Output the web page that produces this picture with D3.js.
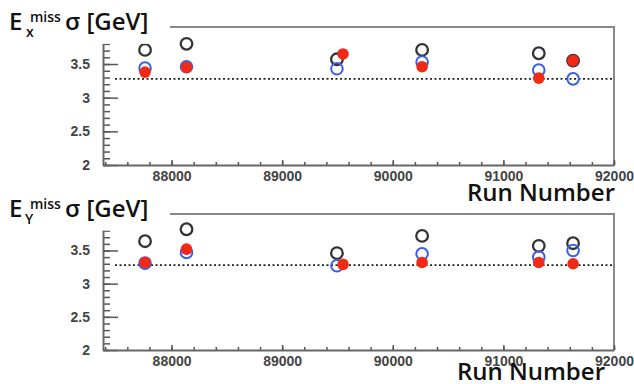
<!doctype html>
<html lang="en">
<head>
  <meta charset="utf-8">
  <title>MET sigma vs run number</title>
  <style>
  body { margin: 0; background: #fff; }
  svg { display: block; }
  .axis text { font-family: "Liberation Sans", Arial, sans-serif; font-weight: bold; font-size: 14px; fill: #444; }
  .axis line { stroke: #555; stroke-width: 1.5; }
  .axis path { stroke: #666; stroke-width: 2; }
  .frame { fill: none; stroke: #888; stroke-width: 2; }
  .title { font-family: "Open Sans", sans-serif; font-weight: 600; fill: #111; }
  </style>
</head>
<body>
<div id="chart"></div>
<script src="https://cdn.jsdelivr.net/npm/d3@7"></script>
<script>

//------------------data
var runs    = [87760, 88135, 89495, 90265, 91320, 91630];
var redRuns = [87760, 88135, 89550, 90265, 91320, 91630];

var exBlack = [3.71, 3.80, 3.57, 3.71, 3.66, 3.55];
var exBlue  = [3.44, 3.46, 3.43, 3.53, 3.41, 3.28];
var exRed   = [3.38, 3.45, 3.65, 3.46, 3.29, 3.55];

var eyBlack = [3.64, 3.82, 3.46, 3.72, 3.57, 3.61];
var eyBlue  = [3.31, 3.47, 3.27, 3.45, 3.40, 3.50];
var eyRed   = [3.32, 3.52, 3.29, 3.32, 3.32, 3.30];

var refLevel = 3.28;
var xTicks = [88000, 89000, 90000, 91000, 92000];
var yTicks = [2, 2.5, 3, 3.5];

//------------------svg
var width = 634, height = 384;
var svg = d3.select("#chart").append("svg")
    .attr("width", width)
    .attr("height", height);

var x = d3.scaleLinear().domain([87380, 92000]).range([103, 614]);

function drawPanel(top, bottom, sub, black, blue, red) {
  var y = d3.scaleLinear().domain([2, 4.05]).range([bottom, top]);
  var g = svg.append("g");

  // frame (top + right)
  g.append("path").attr("class", "frame")
    .attr("d", "M" + x.range()[0] + "," + top + "H" + x.range()[1] + "V" + bottom);

  // minor ticks
  g.append("g").attr("class", "axis")
    .attr("transform", "translate(" + x.range()[0] + ",0)")
    .call(d3.axisLeft(y).tickValues(d3.range(2, 4.05, 0.1)).tickSize(-7).tickSizeOuter(0).tickFormat(""))
    .select(".domain").remove();
  g.append("g").attr("class", "axis")
    .attr("transform", "translate(0," + bottom + ")")
    .call(d3.axisBottom(x).tickValues(d3.range(87400, 92001, 200)).tickSize(-3).tickSizeOuter(0).tickFormat(""))
    .select(".domain").remove();

  // major ticks + labels
  g.append("g").attr("class", "axis")
    .attr("transform", "translate(" + x.range()[0] + ",0)")
    .call(d3.axisLeft(y).tickValues(yTicks).tickSize(-15).tickSizeOuter(0).tickPadding(13).tickFormat(d3.format("")));
  g.append("g").attr("class", "axis")
    .attr("transform", "translate(0," + bottom + ")")
    .call(d3.axisBottom(x).tickValues(xTicks).tickSize(-5).tickSizeOuter(0).tickPadding(6).tickFormat(d3.format("d")));

  // dotted reference line
  g.append("line")
    .attr("x1", 115).attr("x2", x.range()[1])
    .attr("y1", y(refLevel)).attr("y2", y(refLevel))
    .attr("stroke", "#222").attr("stroke-width", 1.6)
    .attr("stroke-dasharray", "2,2.5");

  // markers
  g.selectAll(".blk").data(black).enter().append("circle")
    .attr("cx", function(d, i) { return x(runs[i]); })
    .attr("cy", function(d) { return y(d); })
    .attr("r", 5.8).attr("fill", "none")
    .attr("stroke", "#333").attr("stroke-width", 2.3);
  g.selectAll(".blu").data(blue).enter().append("circle")
    .attr("cx", function(d, i) { return x(runs[i]); })
    .attr("cy", function(d) { return y(d); })
    .attr("r", 5.8).attr("fill", "none")
    .attr("stroke", "#3b5de8").attr("stroke-width", 2);
  g.selectAll(".red").data(red).enter().append("circle")
    .attr("cx", function(d, i) { return x(redRuns[i]); })
    .attr("cy", function(d) { return y(d); })
    .attr("r", 5.8).attr("fill", "#f02a14");

  // title box covering the top-left corner
  g.append("rect").attr("x", 0).attr("y", top - 12)
    .attr("width", 170).attr("height", y(3.8) - top + 12)
    .attr("fill", "#fff");

  var base = top + 3;
  var t = g.append("text").attr("class", "title");
  t.append("tspan").attr("x", 9).attr("y", base).attr("font-size", 24).text("E");
  t.append("tspan").attr("x", sub == "x" ? 26 : 25).attr("y", base + 7).attr("font-size", 14).text(sub);
  t.append("tspan").attr("x", 30).attr("y", base - 8).attr("font-size", 14).text("miss");
  t.append("tspan").attr("x", 65).attr("y", base).attr("font-size", 24).text("\u03c3 [GeV]");

  return y;
}

drawPanel(27, 165, "x", exBlack, exBlue, exRed);
drawPanel(214, 350, "Y", eyBlack, eyBlue, eyRed);

svg.append("text").attr("class", "title")
  .attr("x", 615).attr("y", 201).attr("text-anchor", "end")
  .attr("font-size", 24).text("Run Number");
svg.append("text").attr("class", "title")
  .attr("x", 605).attr("y", 380).attr("text-anchor", "end")
  .attr("font-size", 24).text("Run Number");

</script>
</body>
</html>
